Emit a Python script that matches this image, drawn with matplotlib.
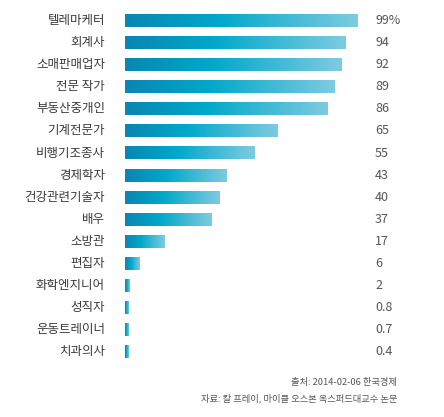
import numpy as np
import matplotlib
matplotlib.use('Agg')
import matplotlib.pyplot as plt
from matplotlib.colors import LinearSegmentedColormap
from matplotlib.transforms import blended_transform_factory

plt.rcParams['font.family'] = ['Noto Sans CJK KR', 'DejaVu Sans']

jobs = ['텔레마케터', '회계사', '소매판매업자', '전문 작가', '부동산중개인', '기계전문가',
        '비행기조종사', '경제학자', '건강관련기술자', '배우', '소방관', '편집자',
        '화학엔지니어', '성직자', '운동트레이너', '치과의사']
probs = [99, 94, 92, 89, 86, 65, 55, 43, 40, 37, 17, 6, 2, 0.8, 0.7, 0.4]
value_labels = ['99%', '94', '92', '89', '86', '65', '55', '43', '40', '37', '17',
                '6', '2', '0.8', '0.7', '0.4']
source_lines = ['출처: 2014-02-06 한국경제', '자료: 칼 프레이, 마이클 오스본 옥스퍼드대교수 논문']

W, H = 444, 417
fig = plt.figure(figsize=(W / 100, H / 100), dpi=100)
ax = fig.add_axes([125 / W, (H - 363) / H, 235 / W, 353.6 / H])

cmap = LinearSegmentedColormap.from_list(
    'bar', [(0, '#0a86b2'), (0.4, '#00a8ca'), (1, '#7ecbe0')])
grad = np.linspace(0, 1, 256).reshape(1, -1)

bar_h = 0.58
for i, v in enumerate(probs):
    # tiny values still get a thin visible sliver, like the original
    w = max(v, 1.4)
    ax.imshow(grad, cmap=cmap, aspect='auto', interpolation='bilinear',
              extent=(0, w, i + bar_h / 2, i - bar_h / 2))

ax.set_xlim(0, 100)
ax.set_ylim(len(jobs) - 0.5, -0.5)
ax.axis('off')

tr_lab = blended_transform_factory(fig.transFigure, ax.transData)
for i, (name, lab) in enumerate(zip(jobs, value_labels)):
    ax.text(105 / W, i, name, transform=tr_lab, ha='right', va='center',
            fontsize=9, color='#3a3a3a')
    ax.text(375 / W, i, lab, transform=tr_lab, ha='left', va='center',
            fontsize=9, color='#555555')

fig.text(397 / W, 1 - 382 / H, source_lines[0], ha='right', va='center',
         fontsize=6.7, color='#555555')
fig.text(397 / W, 1 - 398 / H, source_lines[1], ha='right', va='center',
         fontsize=6.7, color='#555555')

fig.savefig('out.png', dpi=100, facecolor='white')
